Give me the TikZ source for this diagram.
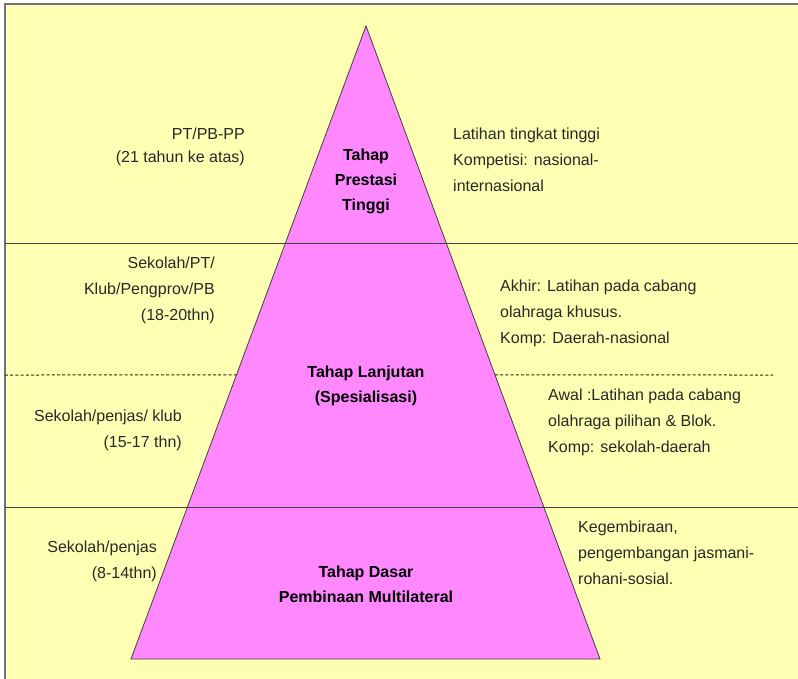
\documentclass[tikz,border=0pt]{standalone}
\usepackage{fontspec}
\setmainfont{Liberation Sans}
\usepackage{tikz}
\usetikzlibrary{calc}

\definecolor{bgyellow}{RGB}{255,255,179}
\definecolor{tahappink}{RGB}{255,136,255}
\definecolor{inkgray}{RGB}{40,40,40}

\begin{document}
\begin{tikzpicture}[x=1pt,y=-1pt,
    line/.style={draw=black!75, line width=0.8pt},
    divider/.style={draw=black!85, line width=1pt, dash pattern=on 3pt off 2.2pt},
    tahap/.style={align=center, inner sep=0pt, font=\fontsize{16}{25}\selectfont\bfseries},
    leftnote/.style={anchor=east, align=right, inner sep=0pt, text=inkgray, font=\fontsize{16}{26}\selectfont},
    rightnote/.style={anchor=west, align=left, inner sep=0pt, text=inkgray, font=\fontsize{16}{26}\selectfont}]

    \useasboundingbox (0,0) rectangle (798,679);
    \fill[bgyellow] (5,4) rectangle (798,679);
    \draw[black!55, line width=1.6pt] (5,679) -- (5,4) -- (798,4);

    % the pyramid
    \coordinate (A) at (366,26);
    \coordinate (B) at (131,659);
    \coordinate (C) at (600,659);
    \fill[tahappink] (A) -- (B) -- (C) -- cycle;
    \draw[line] (A) -- (B) -- (C) -- cycle;

    % levels
    \coordinate (D1) at (5,243);   \coordinate (E1) at (798,243);
    \coordinate (D2) at (5,507);   \coordinate (E2) at (798,507);
    \coordinate (D3) at (5,375);   \coordinate (E3) at (773,375);
    \coordinate (F3) at ($(A)!{(375-26)/633}!(B)$);
    \coordinate (G3) at ($(A)!{(375-26)/633}!(C)$);
    \draw[line] (D1) -- (E1);
    \draw[line] (D2) -- (E2);
    \draw[divider] (D3) -- (F3);
    \draw[divider] (G3) -- (E3);

    \node[tahap] (T1) at (366,181) {Tahap\\Prestasi\\Tinggi};
    \node[tahap] (T2) at (366,386) {Tahap Lanjutan\\(Spesialisasi)};
    \node[tahap] (T3) at (366,584) {Tahap Dasar\\Pembinaan Multilateral};

    \node[leftnote, font=\fontsize{16}{23}\selectfont] (L1) at (245,147) {PT/PB-PP\\(21 tahun ke atas)};
    \node[leftnote] (L2) at (215,290) {Sekolah/PT/\\Klub/Pengprov/PB\\(18-20thn)};
    \node[leftnote] (L3) at (182,430) {Sekolah/penjas/ klub\\(15-17 thn)};
    \node[leftnote] (L4) at (157,561) {Sekolah/penjas\\(8-14thn)};

    \node[rightnote] (R1) at (453,160) {Latihan tingkat tinggi\\Kompetisi: nasional-\\internasional};
    \node[rightnote] (R2) at (500,313) {Akhir: Latihan pada cabang\\olahraga khusus.\\Komp: Daerah-nasional};
    \node[rightnote] (R3) at (548,422) {Awal :Latihan pada cabang\\olahraga pilihan \& Blok.\\Komp: sekolah-daerah};
    \node[rightnote] (R4) at (578,553) {Kegembiraan,\\pengembangan jasmani-\\rohani-sosial.};
\end{tikzpicture}
\end{document}
